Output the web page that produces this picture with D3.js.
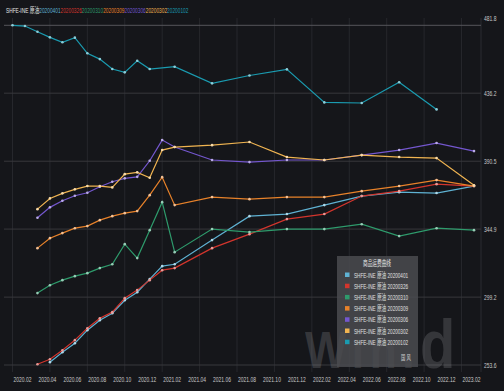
<!DOCTYPE html>
<html>
<head>
<meta charset="utf-8">
<script src="https://cdn.jsdelivr.net/npm/d3@7"></script>
<style>
  body { margin: 0; background: #15161a; }
  svg { display: block; }
  text { font-family: "Liberation Sans", "Noto Sans CJK SC", sans-serif; }
</style>
</head>
<body>
<svg></svg>
<script>
// contract months (x) for each curve
const monthsLong = ["2020.03","2020.04","2020.05","2020.06","2020.07","2020.08","2020.09","2020.10","2020.11","2020.12","2021.01","2021.02","2021.05","2021.08","2021.11","2022.02","2022.05","2022.08","2022.11","2023.02"];
const monthsShort = monthsLong.slice(1);
const monthsTeal = ["2020.01","2020.02","2020.03","2020.04","2020.05","2020.06","2020.07","2020.08","2020.09","2020.10","2020.11","2020.12","2021.02","2021.05","2021.08","2021.11","2022.02","2022.05","2022.08","2022.11"];

// curve values
const v20200401 = [255.5, 262.2, 268.2, 277.0, 283.7, 288.4, 297.1, 302.5, 311.3, 320.0, 321.3, 337.5, 353.6, 355.0, 361.0, 367.1, 369.7, 369.1, 373.8];
const v20200326 = [254.1, 257.5, 263.5, 270.3, 278.3, 285.0, 289.1, 298.5, 303.9, 310.6, 317.3, 318.7, 332.1, 341.5, 351.6, 355.0, 367.1, 370.4, 375.1, 373.8];
const v20200310 = [301.9, 307.2, 310.6, 313.3, 315.3, 318.7, 321.3, 334.8, 325.4, 344.2, 363.0, 329.4, 344.9, 342.9, 344.9, 344.9, 348.2, 340.2, 345.5, 344.2];
const v20200309 = [332.1, 338.8, 342.2, 345.5, 346.9, 350.9, 353.6, 355.6, 357.0, 367.7, 379.8, 361.0, 366.4, 365.0, 366.4, 366.4, 370.4, 373.8, 377.8, 373.8];
const v20200306 = [352.5, 359.5, 363.9, 367.3, 369.3, 373.3, 376.7, 379.0, 380.0, 390.8, 404.7, 400.0, 391.3, 389.9, 391.3, 391.3, 394.6, 398.0, 402.7, 397.3];
const v20200302 = [358.3, 365.5, 368.9, 371.6, 373.8, 373.8, 372.9, 381.8, 383.0, 379.4, 398.0, 400.0, 401.3, 403.4, 393.3, 391.3, 394.6, 393.3, 392.6, 374.4];
const v20200102 = [481.8, 481.3, 477.5, 473.7, 470.4, 473.5, 463.0, 459.1, 452.4, 450.2, 458.0, 452.4, 454.0, 442.8, 448.1, 452.2, 430.0, 429.6, 443.5, 425.3];

const seriesNames = ["20200401","20200326","20200310","20200309","20200306","20200302","20200102"];
const seriesColors = ["#5fb2d3","#d3352d","#2e9b6c","#e8822a","#7457cf","#f0b451","#1a9bb0"];
const seriesMonths = [monthsShort, monthsLong, monthsLong, monthsLong, monthsLong, monthsLong, monthsTeal];
const seriesValues = [v20200401, v20200326, v20200310, v20200309, v20200306, v20200302, v20200102];

const xTickLabels = ["2020.02","2020.04","2020.06","2020.08","2020.10","2020.12","2021.02","2021.04","2021.06","2021.08","2021.10","2021.12","2022.02","2022.04","2022.06","2022.08","2022.10","2022.12","2023.02"];
const yTickValues = [253.6, 299.2, 344.9, 390.5, 436.2, 481.8];

const width = 504, height = 391;
const squash = 0.62; // text in the picture is narrow

// month string -> index (0 = 2020.02)
const monthIndex = (s) => {
  const p = s.split(".");
  return (+p[0] - 2020) * 12 + (+p[1] - 2);
};

const svg = d3.select("svg").attr("width", width).attr("height", height);

const x = d3.scaleLinear().domain([-1, 36]).range([12.5, 474]);
const y = d3.scaleLinear().domain([253.6, 481.8]).range([365, 25.3]);

// vertical quarter grid lines
const quarterTicks = d3.range(-1, 37, 3);
svg.append("g")
  .selectAll("line")
  .data(quarterTicks)
  .enter()
  .append("line")
  .attr("x1", (d) => x(d)).attr("x2", (d) => x(d))
  .attr("y1", 18).attr("y2", 372)
  .attr("stroke", "#26272c")
  .attr("stroke-width", 1);

// right border
svg.append("line")
  .attr("x1", 481).attr("x2", 481).attr("y1", 18).attr("y2", 372)
  .attr("stroke", "#2a2b30");

// y axis (right side)
const yAxis = svg.append("g")
  .attr("transform", "translate(481,0)")
  .call(d3.axisRight(y).tickValues(yTickValues).tickSize(0).tickFormat(d3.format(".1f")));
yAxis.select(".domain").remove();
yAxis.selectAll("text")
  .attr("x", 0)
  .attr("transform", (d, i) => `translate(3,${i === yTickValues.length - 1 ? -7 : 0}) scale(${squash},1)`)
  .attr("fill", "#c9c9c9")
  .style("font-size", "8px")
  .attr("text-anchor", "start");

// horizontal grid lines
svg.append("g")
  .selectAll("line")
  .data(yTickValues)
  .enter()
  .append("line")
  .attr("x1", 4).attr("x2", 481)
  .attr("y1", (d) => y(d)).attr("y2", (d) => y(d))
  .attr("stroke", (d, i) => (i === yTickValues.length - 1 ? "#55555a" : "#38383c"))
  .attr("stroke-width", 1);

// x axis
const xAxis = svg.append("g")
  .attr("transform", "translate(-3,372)")
  .call(d3.axisBottom(x)
    .tickValues(d3.range(0, 37, 2))
    .tickSize(0)
    .tickFormat((d, i) => xTickLabels[i]));
xAxis.select(".domain").remove();
xAxis.selectAll("text")
  .attr("y", 4)
  .attr("transform", `scale(${squash},1)`)
  .attr("fill", "#c9c9c9")
  .style("font-size", "8px");

// watermark
const wm = svg.append("text")
  .attr("transform", "translate(305,368) scale(0.85,1)")
  .attr("fill", "#8a8b8f")
  .attr("opacity", 0.28)
  .style("font-size", "52px")
  .style("font-weight", "bold")
  .attr("letter-spacing", "6.5");
wm.append("tspan").text("Win.");
wm.append("tspan").style("font-size", "68px").text("d");

// curves
const line = d3.line()
  .x((d) => x(monthIndex(d.m)))
  .y((d) => y(d.v));

const curves = seriesNames.map((name, i) => ({
  name: name,
  color: seriesColors[i],
  points: seriesMonths[i].map((m, j) => ({ m: m, v: seriesValues[i][j] }))
}));

const curveG = svg.append("g");
curves.forEach((c) => {
  curveG.append("path")
    .datum(c.points)
    .attr("d", line)
    .attr("fill", "none")
    .attr("stroke", c.color)
    .attr("stroke-width", 1.2);
  curveG.append("g")
    .selectAll("circle")
    .data(c.points)
    .enter()
    .append("circle")
    .attr("cx", (d) => x(monthIndex(d.m)))
    .attr("cy", (d) => y(d.v))
    .attr("r", 1.3)
    .attr("fill", d3.interpolateRgb(c.color, "#ffffff")(0.5));
});

// top legend line
const topLegend = svg.append("text")
  .attr("transform", "translate(6,13) scale(0.6,1)")
  .style("font-size", "8px");
topLegend.append("tspan").attr("fill", "#e6e6e6").text("SHFE-INE 原油");
seriesNames.forEach((n, i) => {
  topLegend.append("tspan").attr("fill", seriesColors[i]).text(n);
});

// legend box
const lg = svg.append("g").attr("transform", "translate(337,256)");
lg.append("rect")
  .attr("width", 81).attr("height", 111)
  .attr("fill", "#4a4b50")
  .attr("opacity", 0.85);
lg.append("text")
  .attr("transform", `translate(40,10) scale(${squash},1)`)
  .attr("text-anchor", "middle")
  .attr("fill", "#e8e8e8")
  .style("font-size", "7.5px")
  .text("商品运费曲线");
seriesNames.forEach((n, i) => {
  const row = lg.append("g").attr("transform", `translate(0,${20 + i * 11.2})`);
  row.append("rect")
    .attr("x", 8).attr("y", -3.5)
    .attr("width", 4.5).attr("height", 4.5)
    .attr("fill", seriesColors[i]);
  row.append("text")
    .attr("transform", `translate(17,1.5) scale(${squash},1)`)
    .attr("fill", "#e0e0e0")
    .style("font-size", "7.5px")
    .text("SHFE-INE 原油 " + n);
});
lg.append("text")
  .attr("transform", `translate(64,104) scale(${squash},1)`)
  .attr("fill", "#d0d0d0")
  .style("font-size", "7px")
  .text("国  风");
</script>
</body>
</html>
